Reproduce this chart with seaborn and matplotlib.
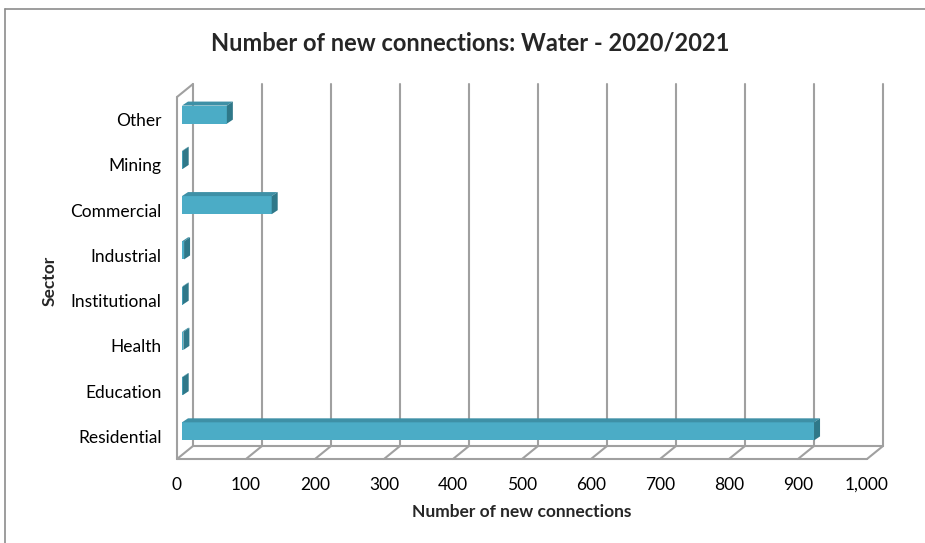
import matplotlib
matplotlib.use('Agg')
import matplotlib.pyplot as plt
import numpy as np
import pandas as pd
import seaborn as sns
from matplotlib.lines import Line2D
from matplotlib.patches import Polygon
from matplotlib.transforms import offset_copy, IdentityTransform

# data
sectors = ['Other', 'Mining', 'Commercial', 'Industrial', 'Institutional',
           'Health', 'Education', 'Residential']
connections = [65, 1, 130, 3, 1, 2, 1, 916]
x_ticks = [0, 100, 200, 300, 400, 500, 600, 700, 800, 900, 1000]
x_tick_labels = ['0', '100', '200', '300', '400', '500', '600', '700', '800', '900', '1,000']

FRONT = '#4bacc6'
TOP = '#3e90a6'
SIDE = '#2f7889'
WALL = '#a0a0a0'

sns.set_theme(style='white')
plt.rcParams['font.family'] = ['Lato', 'DejaVu Sans']

W, H = 925, 543
fig = plt.figure(figsize=(W / 100, H / 100), dpi=100)
ax = fig.add_axes([177 / W, (H - 459) / H, 690 / W, 362 / H])

df = pd.DataFrame({'Sector': sectors, 'Connections': connections})
sns.barplot(data=df, x='Connections', y='Sector', orient='h', color=FRONT,
            saturation=1, width=0.4, ax=ax, zorder=3)
ax.set_xlim(0, 1000)
ax.set_ylim(len(sectors) - 0.5, -0.5)
for s in ax.spines.values():
    s.set_visible(False)
ax.grid(False)

# 3D frame: back wall gridlines, left wall, floor
back = offset_copy(ax.transData, fig=fig, x=16, y=13, units='dots')
ymin, ymax = len(sectors) - 0.5, -0.5
for t in x_ticks:
    ax.plot([t, t], [ymin, ymax], transform=back, color=WALL, lw=1.5,
            clip_on=False, zorder=1)
ax.plot([0, 1000], [ymin, ymin], transform=back, color=WALL, lw=1.5, clip_on=False, zorder=1)
ax.plot([0, 1000], [ymin, ymin], color=WALL, lw=1.5, clip_on=False, zorder=1)
ax.plot([0, 0], [ymin, ymax], color=WALL, lw=1.5, clip_on=False, zorder=1)

fig.canvas.draw()
ident = IdentityTransform()


def disp(x, y):
    return ax.transData.transform((x, y))


for t in x_ticks:
    p = disp(t, ymin)
    fig.add_artist(Line2D([p[0], p[0] + 16], [p[1], p[1] + 13], color=WALL, lw=1.5,
                          transform=ident, zorder=1))
p = disp(0, ymax)
fig.add_artist(Line2D([p[0], p[0] + 16], [p[1], p[1] + 13], color=WALL, lw=1.5,
                      transform=ident, zorder=1))

# bars: front face shifted into the depth, plus top and side faces
fx, fy, dx, dy = 5, 5, 6, 4
for bar in ax.patches:
    x0, y0 = bar.get_x(), bar.get_y()
    w, h = bar.get_width(), bar.get_height()
    bar.set_transform(offset_copy(ax.transData, fig=fig, x=fx, y=fy, units='dots'))
    bar.set_edgecolor('none')
    a = disp(x0, y0) + [fx, fy]
    b = disp(x0 + w, y0 + h) + [fx, fy]
    left, right = min(a[0], b[0]), max(a[0], b[0])
    bot, top = min(a[1], b[1]), max(a[1], b[1])
    top_face = [(left, top), (right, top), (right + dx, top + dy), (left + dx, top + dy)]
    side_face = [(right, bot), (right + dx, bot + dy), (right + dx, top + dy), (right, top)]
    fig.add_artist(Polygon(top_face, closed=True, facecolor=TOP, edgecolor='none',
                           transform=ident, zorder=3))
    fig.add_artist(Polygon(side_face, closed=True, facecolor=SIDE, edgecolor='none',
                           transform=ident, zorder=3))

ax.set_xticks(x_ticks)
ax.set_xticklabels(x_tick_labels)
ax.tick_params(axis='x', length=0, pad=13, labelsize=12.5, colors='black')
ax.tick_params(axis='y', length=0, pad=11, labelsize=12.5, colors='black')

ax.set_xlabel('Number of new connections', fontsize=12.5, fontweight='bold')
ax.set_ylabel('Sector', fontsize=12.5, fontweight='bold')
ax.xaxis.set_label_coords(0.5, -(504 - 459) / 362)
ax.yaxis.set_label_coords((58 - 177) / 690, (459 - 281) / 362)

fig.text(470 / W, 1 - 43 / H, 'Number of new connections: Water - 2020/2021',
         ha='center', va='center', fontsize=17, fontweight='bold')

# chart border (left and top edges visible)
fig.add_artist(Line2D([5 / W, 5 / W], [0, 1 - 9 / H], color='#8c8c8c', lw=1.2,
                      transform=fig.transFigure))
fig.add_artist(Line2D([5 / W, 1], [1 - 9 / H, 1 - 9 / H], color='#8c8c8c', lw=1.2,
                      transform=fig.transFigure))

fig.savefig('out.png', dpi=100)
